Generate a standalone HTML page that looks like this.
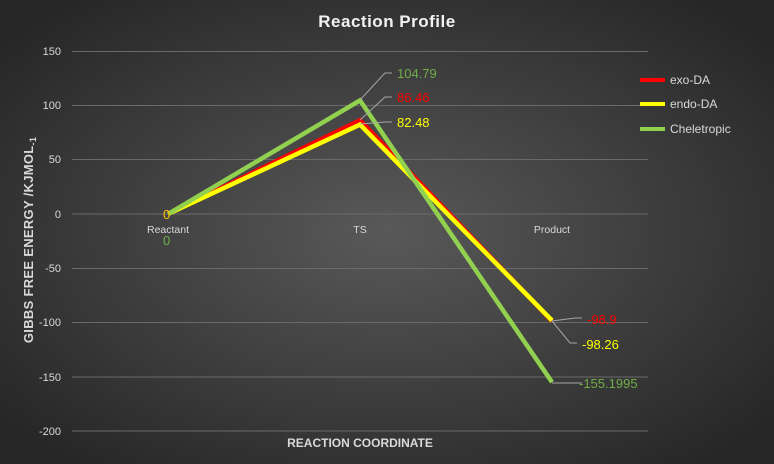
<!DOCTYPE html>
<html><head><meta charset="utf-8"><style>
body{margin:0;width:774px;height:464px;overflow:hidden;}
svg{display:block;font-family:"Liberation Sans",sans-serif;}
</style></head><body>
<svg width="774" height="464" xmlns="http://www.w3.org/2000/svg">
<defs>
<radialGradient id="bg" cx="50%" cy="50%" r="65%">
<stop offset="0" stop-color="#595959"/><stop offset="1" stop-color="#262626"/>
</radialGradient>
</defs>
<rect width="774" height="464" fill="url(#bg)"/>
<text x="387" y="27" text-anchor="middle" fill="#f2f2f2" font-size="17" font-weight="bold" letter-spacing="0.5">Reaction Profile</text>
<g stroke="#6a6a6a" stroke-width="1">
<line x1="72" x2="648" y1="51.5" y2="51.5"/><line x1="72" x2="648" y1="105.5" y2="105.5"/>
<line x1="72" x2="648" y1="159.5" y2="159.5"/><line x1="72" x2="648" y1="214" y2="214"/>
<line x1="72" x2="648" y1="268.5" y2="268.5"/><line x1="72" x2="648" y1="322.5" y2="322.5"/>
<line x1="72" x2="648" y1="377" y2="377"/><line x1="72" x2="648" y1="431" y2="431"/>
</g>
<g fill="#d9d9d9" font-size="11" text-anchor="end">
<text x="61" y="55">150</text><text x="61" y="109">100</text><text x="61" y="163">50</text>
<text x="61" y="218">0</text><text x="61" y="272">-50</text><text x="61" y="326">-100</text>
<text x="61" y="381">-150</text><text x="61" y="435">-200</text>
</g>
<g fill="#d9d9d9" font-size="10.5" text-anchor="middle">
<text x="168" y="233">Reactant</text><text x="360" y="233">TS</text><text x="552" y="233">Product</text>
</g>
<text x="0" y="0" transform="translate(33,240) rotate(-90)" text-anchor="middle" fill="#d9d9d9" font-size="13" font-weight="bold" letter-spacing="0.3">GIBBS FREE ENERGY /KJMOL<tspan dy="3" font-size="9">-1</tspan></text>
<text x="360" y="447" text-anchor="middle" fill="#d9d9d9" font-size="12" font-weight="bold">REACTION COORDINATE</text>
<g fill="none" stroke-width="4.5" stroke-linejoin="miter">
<polyline points="168,214 360,120.3 552,321.2" stroke="#ff0000"/>
<polyline points="168,214 360,124.6 552,320.5" stroke="#ffff00"/>
<polyline points="168,214 360,100.4 552,382.2" stroke="#92d050"/>
</g>
<g stroke="#a6a6a6" stroke-width="1" fill="none">
<polyline points="360,100 385,73 392,73"/>
<polyline points="360,120 385,97 392,97"/>
<polyline points="360,124 385,122 392,122"/>
<polyline points="552,321 575,318 582,318"/>
<polyline points="552,321 570,343 577,343"/>
<polyline points="552,383 582,383"/>
</g>
<g font-size="13">
<text x="397" y="78" fill="#70ad47">104.79</text>
<text x="397" y="102" fill="#ff0000">86.46</text>
<text x="397" y="127" fill="#ffff00">82.48</text>
<text x="587" y="324" fill="#ff0000">-98.9</text>
<text x="582" y="349" fill="#ffff00">-98.26</text>
<text x="579" y="388" fill="#70ad47">-155.1995</text>
<text x="163" y="219" fill="#ffc000">0</text>
<text x="163" y="245" fill="#70ad47">0</text>
</g>
<g stroke-width="4">
<line x1="640" x2="665" y1="80" y2="80" stroke="#ff0000"/>
<line x1="640" x2="665" y1="104" y2="104" stroke="#ffff00"/>
<line x1="640" x2="665" y1="129" y2="129" stroke="#92d050"/>
</g>
<g fill="#d9d9d9" font-size="12">
<text x="670" y="84">exo-DA</text><text x="670" y="108">endo-DA</text><text x="670" y="133">Cheletropic</text>
</g>
</svg>
</body></html>
